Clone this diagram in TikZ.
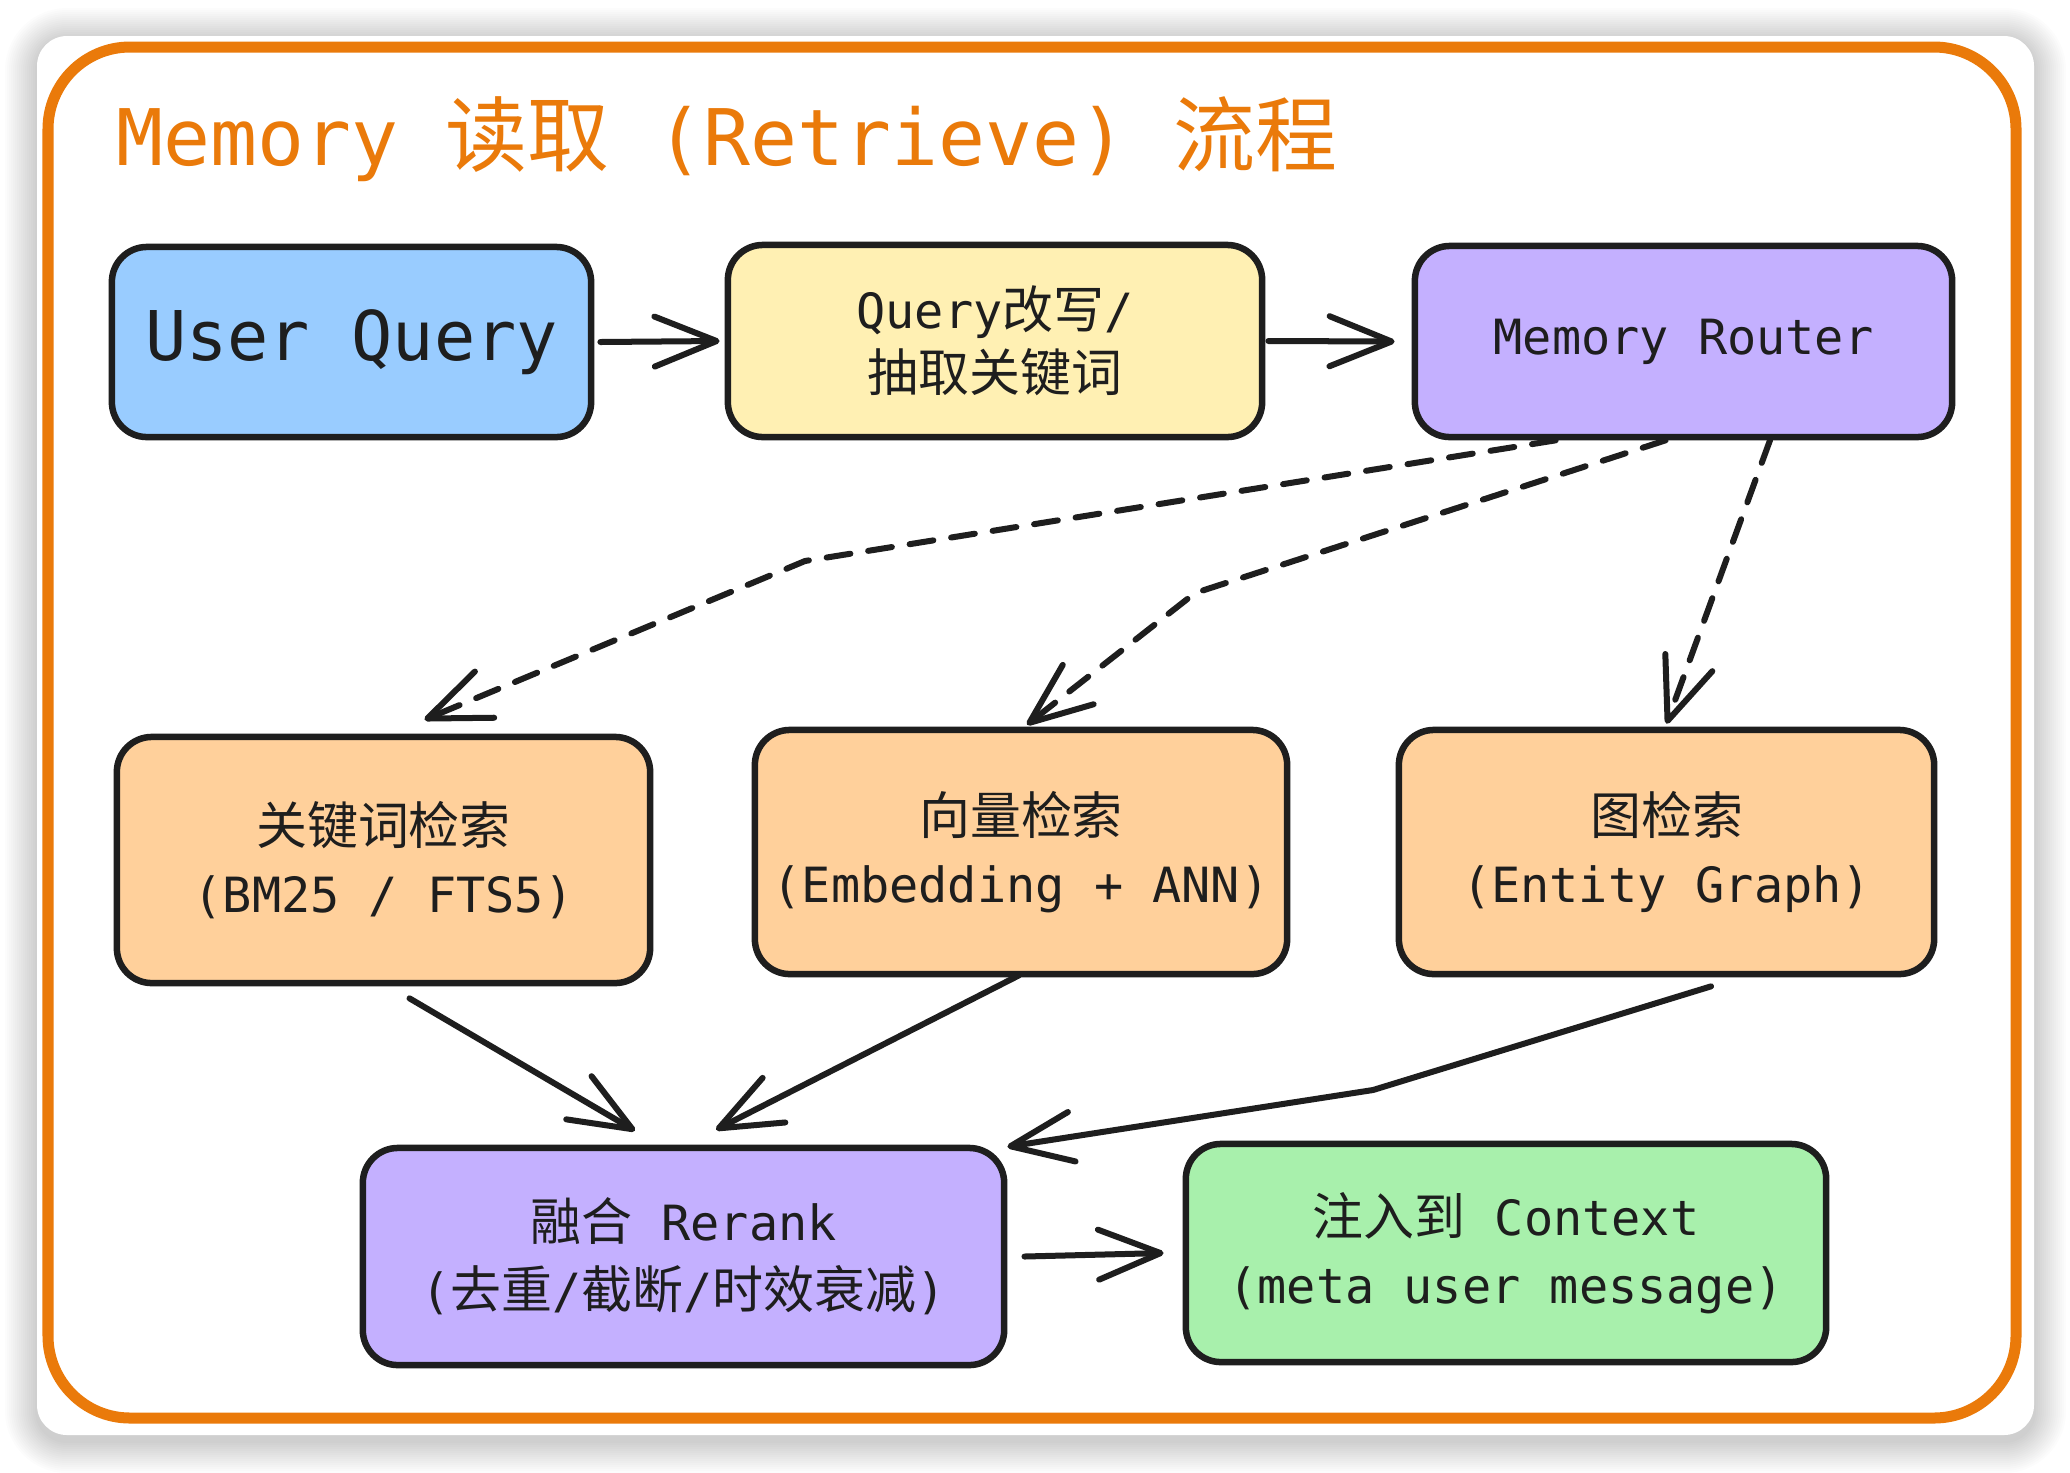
\documentclass[tikz,border=0pt]{standalone}
\usepackage{fontspec}
\setmainfont{DejaVu Sans Mono}
\newfontfamily\cjk{Noto Sans CJK SC}[Scale=1.05]
\usetikzlibrary{arrows.meta,calc}
\newcommand{\zh}[1]{{\cjk #1}}
\definecolor{frameorange}{RGB}{234,122,10}
\definecolor{ink}{RGB}{30,30,30}
\definecolor{cblue}{RGB}{153,204,255}
\definecolor{cyellow}{RGB}{255,240,179}
\definecolor{cpurple}{RGB}{196,176,255}
\definecolor{corange}{RGB}{255,208,155}
\definecolor{cgreen}{RGB}{168,240,172}
\tikzset{
  box/.style={draw=ink, line width=0.065cm, rounded corners=0.35cm, align=center,
    inner sep=0pt, text=ink, font=\fontsize{13.8pt}{19.3pt}\selectfont},
  arr/.style={draw=ink, line width=0.06cm, line cap=round, line join=round,
    -{Straight Barb[length=0.62cm,width=0.5cm,line cap=round,line join=round]}},
  darr/.style={arr, dash pattern=on 0.24cm off 0.18cm},
  titletext/.style={text=frameorange, inner sep=0pt, font=\fontsize{22.2pt}{26pt}\selectfont}
}
\begin{document}
\begin{tikzpicture}[x=0.01cm,y=-0.01cm]
\useasboundingbox (0,0) rectangle (2070,1472);
\fill[white] (0,0) rectangle (2070,1472);
% card shadow
\foreach \i in {1,...,16}{
  \pgfmathsetmacro\rr{0.3+\i*0.02}
  \fill[black, opacity=0.012, rounded corners=\rr cm] (37-\i*2, 40-\i*2) rectangle (2034+\i*2, 1441+\i*2);
}
% card
\fill[white, rounded corners=0.3cm] (37,36) rectangle (2034,1435);
% orange frame
\draw[frameorange, line width=0.11cm, rounded corners=0.82cm] (48,47) rectangle (2016,1418);

% title
\node[titletext, anchor=base west] (title) at (116,165)
  {Memory \zh{读取} (Retrieve) \zh{流程}};

% nodes
\node[box, fill=cblue, minimum width=4.79cm, minimum height=1.90cm,
  font=\fontsize{19.5pt}{24pt}\selectfont] (uq) at (351.5,342) {User Query};
\node[box, fill=cyellow, minimum width=5.34cm, minimum height=1.92cm] (qr) at (995,341)
  {Query\zh{改写}/\\[-0.05cm]\zh{抽取关键词}};
\node[box, fill=cpurple, minimum width=5.37cm, minimum height=1.91cm] (mr) at (1683.5,341.5)
  {Memory Router};

\node[box, fill=corange, minimum width=5.33cm, minimum height=2.46cm] (kw) at (383.5,860)
  {\zh{关键词检索}\\(BM25 / FTS5)};
\node[box, fill=corange, minimum width=5.32cm, minimum height=2.44cm] (vec) at (1021,852)
  {\zh{向量检索}\\(Embedding + ANN)};
\node[box, fill=corange, minimum width=5.35cm, minimum height=2.44cm] (gr) at (1666.5,852)
  {\zh{图检索}\\(Entity Graph)};

\node[box, fill=cpurple, minimum width=6.41cm, minimum height=2.17cm] (rr) at (683.5,1256.5)
  {\zh{融合} Rerank\\(\zh{去重}/\zh{截断}/\zh{时效衰减})};
\node[box, fill=cgreen, minimum width=6.40cm, minimum height=2.18cm] (ctx) at (1506,1253)
  {\zh{注入到} Context\\(meta user message)};

% row 1 arrows
\draw[arr] ([xshift=0.06cm]uq.east) -- ([xshift=-0.05cm]qr.west);
\draw[arr] ([xshift=0.03cm]qr.east) -- ([xshift=-0.17cm]mr.west);

% dashed router arrows
\coordinate (d1b) at (805,561);
\coordinate (d2b) at (1195,593);
\draw[darr] ($(mr.south west)!0.265!(mr.south east)$) -- (d1b) -- ([shift={(0.41cm,0.14cm)}]kw.north);
\draw[darr] ($(mr.south west)!0.467!(mr.south east)$) -- (d2b) -- ([shift={(0.06cm,0.02cm)}]vec.north);
\draw[darr] ($(mr.south west)!0.659!(mr.south east)$) -- ([shift={(0cm,0.03cm)}]gr.north);

% to rerank
\coordinate (b3b) at (1373,1090);
\draw[arr] ([shift={(0.26cm,-0.12cm)}]kw.south) -- ([shift={(-0.485cm,0.14cm)}]rr.north);
\draw[arr] ([shift={(-0.02cm,0.02cm)}]vec.south) -- ([shift={(0.325cm,0.15cm)}]rr.north);
\draw[arr] ([shift={(0.445cm,-0.09cm)}]gr.south) -- (b3b) -- ([shift={(0cm,-0.02cm)}]rr.north east);

% rerank to context
\draw[arr] ([xshift=0.17cm]rr.east) -- ([xshift=-0.19cm]ctx.west);
\end{tikzpicture}
\end{document}
